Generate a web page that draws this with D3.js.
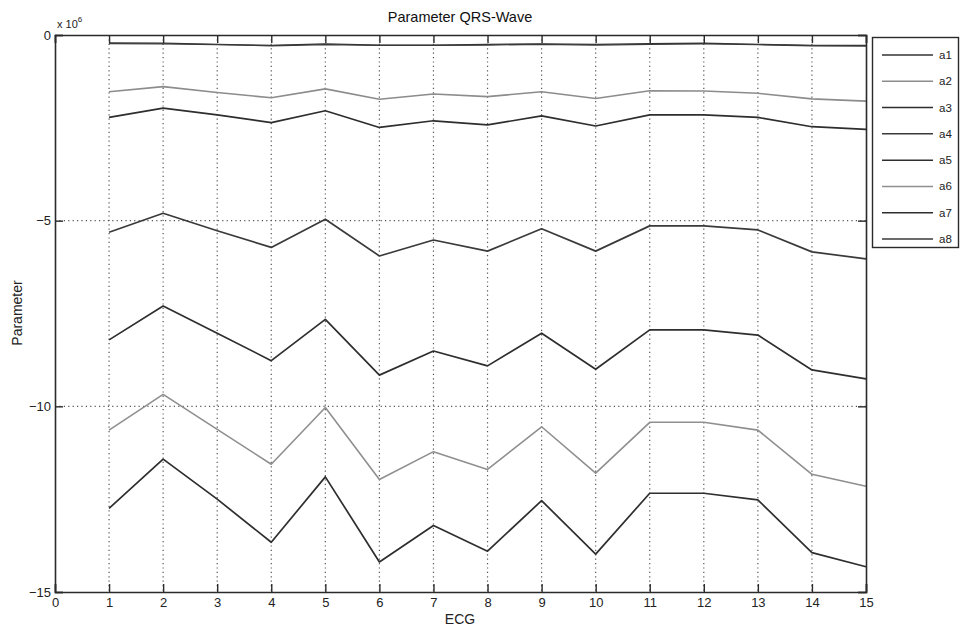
<!DOCTYPE html>
<html>
<head>
<meta charset="utf-8">
<script src="https://cdn.jsdelivr.net/npm/d3@7"></script>
<style>
  html, body { margin: 0; padding: 0; background: #fff; }
  svg { display: block; font-family: "Liberation Sans", Arial, sans-serif; }
</style>
</head>
<body>
<svg id="chart" width="960" height="633"></svg>
<script>
// ECG index on the x axis
const ecg = [1, 2, 3, 4, 5, 6, 7, 8, 9, 10, 11, 12, 13, 14, 15];

// Parameter values per series (units of 10^6)
const a1 = [-0.21, -0.22, -0.25, -0.28, -0.24, -0.27, -0.27, -0.25, -0.24, -0.25, -0.23, -0.22, -0.25, -0.28, -0.28];
const a2 = [-1.53, -1.39, -1.55, -1.69, -1.45, -1.73, -1.59, -1.66, -1.53, -1.71, -1.50, -1.51, -1.57, -1.72, -1.78];
const a3 = [-2.22, -1.97, -2.15, -2.36, -2.04, -2.49, -2.31, -2.42, -2.18, -2.45, -2.15, -2.15, -2.22, -2.47, -2.54];
const a4 = [-5.31, -4.80, -5.27, -5.72, -4.96, -5.95, -5.52, -5.82, -5.22, -5.82, -5.14, -5.14, -5.25, -5.84, -6.03];
const a5 = [-8.21, -7.30, -8.03, -8.77, -7.66, -9.16, -8.51, -8.91, -8.03, -9.00, -7.94, -7.94, -8.08, -9.02, -9.26];
const a6 = [-10.64, -9.68, -10.62, -11.56, -10.03, -11.97, -11.22, -11.70, -10.55, -11.80, -10.43, -10.43, -10.64, -11.83, -12.15];
const a7 = [-12.75, -11.42, -12.50, -13.66, -11.90, -14.19, -13.21, -13.90, -12.54, -13.98, -12.34, -12.34, -12.52, -13.94, -14.32];
const a8 = [-0.23, -0.24, -0.26, -0.29, -0.26, -0.28, -0.28, -0.27, -0.25, -0.27, -0.25, -0.24, -0.26, -0.29, -0.30];

const seriesNames = ["a1", "a2", "a3", "a4", "a5", "a6", "a7", "a8"];
const seriesValues = [a1, a2, a3, a4, a5, a6, a7, a8];
const seriesColors = ["#333333", "#8c8c8c", "#2e2e2e", "#3a3a3a", "#2e2e2e", "#8f8f8f", "#2e2e2e", "#3a3a3a"];
const seriesWidths = [1.3, 1.6, 1.7, 1.7, 1.7, 1.6, 1.7, 1.3];

const xTicks = [0, 1, 2, 3, 4, 5, 6, 7, 8, 9, 10, 11, 12, 13, 14, 15];
const yTicks = [0, -5, -10, -15];

const svg = d3.select("#chart");
const plot = { left: 55, right: 866, top: 35, bottom: 592 };

const x = d3.scaleLinear().domain([0, 15]).range([plot.left, plot.right]);
const y = d3.scaleLinear().domain([-15, 0]).range([plot.bottom, plot.top]);

const ink = "#2a2a2a";

// dotted grid
const grid = svg.append("g");
grid.selectAll("line.vg").data(xTicks.filter(t => t > 0 && t < 15)).enter()
  .append("line")
  .attr("x1", d => x(d)).attr("x2", d => x(d))
  .attr("y1", plot.top).attr("y2", plot.bottom)
  .attr("stroke", "#555").attr("stroke-width", 1.2)
  .attr("stroke-dasharray", "1.2,3.2");
grid.selectAll("line.hg").data(yTicks.filter(t => t < 0 && t > -15)).enter()
  .append("line")
  .attr("x1", plot.left).attr("x2", plot.right)
  .attr("y1", d => y(d)).attr("y2", d => y(d))
  .attr("stroke", "#555").attr("stroke-width", 1.2)
  .attr("stroke-dasharray", "1.2,3.2");

// series lines
const line = d3.line().x((d, i) => x(ecg[i])).y(d => y(d));
svg.append("g").selectAll("path").data(seriesValues).enter()
  .append("path")
  .attr("d", d => line(d))
  .attr("fill", "none")
  .attr("stroke", (d, i) => seriesColors[i])
  .attr("stroke-width", (d, i) => seriesWidths[i])
  .attr("stroke-linejoin", "round");

// axes with inward ticks on all four sides
const tickLen = 8;
const bottomAxis = d3.axisBottom(x).tickValues(xTicks).tickSize(-tickLen).tickPadding(6).tickFormat(d3.format("d"));
const topAxis = d3.axisTop(x).tickValues(xTicks).tickSize(-tickLen).tickFormat("");
const leftAxis = d3.axisLeft(y).tickValues(yTicks).tickSize(-tickLen).tickPadding(4).tickFormat(d3.format("d"));
const rightAxis = d3.axisRight(y).tickValues(yTicks).tickSize(-tickLen).tickFormat("");

function styleAxis(g) {
  g.select(".domain").attr("stroke", ink).attr("stroke-width", 1.6);
  g.selectAll(".tick line").attr("stroke", ink).attr("stroke-width", 1.4);
  g.selectAll(".tick text").attr("fill", "#222").attr("font-size", 13)
    .attr("font-family", "Liberation Sans, Arial, sans-serif");
}

svg.append("g").attr("transform", `translate(0,${plot.bottom})`).call(bottomAxis).call(styleAxis);
svg.append("g").attr("transform", `translate(0,${plot.top})`).call(topAxis).call(styleAxis);
svg.append("g").attr("transform", `translate(${plot.left},0)`).call(leftAxis).call(styleAxis);
svg.append("g").attr("transform", `translate(${plot.right},0)`).call(rightAxis).call(styleAxis);

// title and axis labels
svg.append("text").attr("x", 460).attr("y", 22).attr("text-anchor", "middle")
  .attr("font-size", 14.5).attr("fill", "#111").text("Parameter QRS-Wave");
svg.append("text").attr("x", 460).attr("y", 624).attr("text-anchor", "middle")
  .attr("font-size", 14).attr("fill", "#222").text("ECG");
svg.append("text").attr("transform", "translate(22,313) rotate(-90)").attr("text-anchor", "middle")
  .attr("font-size", 14).attr("fill", "#222").text("Parameter");

// exponent label
const expo = svg.append("text").attr("x", 57).attr("y", 28).attr("font-size", 11).attr("fill", "#222");
expo.append("tspan").text("x 10");
expo.append("tspan").attr("dy", -6).attr("font-size", 8).text("6");

// legend
const lg = svg.append("g");
lg.append("rect").attr("x", 872.5).attr("y", 37.5).attr("width", 86).attr("height", 210)
  .attr("fill", "#fff").attr("stroke", ink).attr("stroke-width", 1.4);
const ly = d3.scalePoint().domain(seriesNames).range([55, 239]);
const items = lg.selectAll("g.item").data(seriesNames).enter().append("g");
items.append("line")
  .attr("x1", 882).attr("x2", 933)
  .attr("y1", d => ly(d)).attr("y2", d => ly(d))
  .attr("stroke", (d, i) => seriesColors[i]).attr("stroke-width", 1.5);
items.append("text")
  .attr("x", 939).attr("y", d => ly(d) + 4)
  .attr("font-size", 11.5).attr("fill", "#222").text(d => d);
</script>
</body>
</html>
